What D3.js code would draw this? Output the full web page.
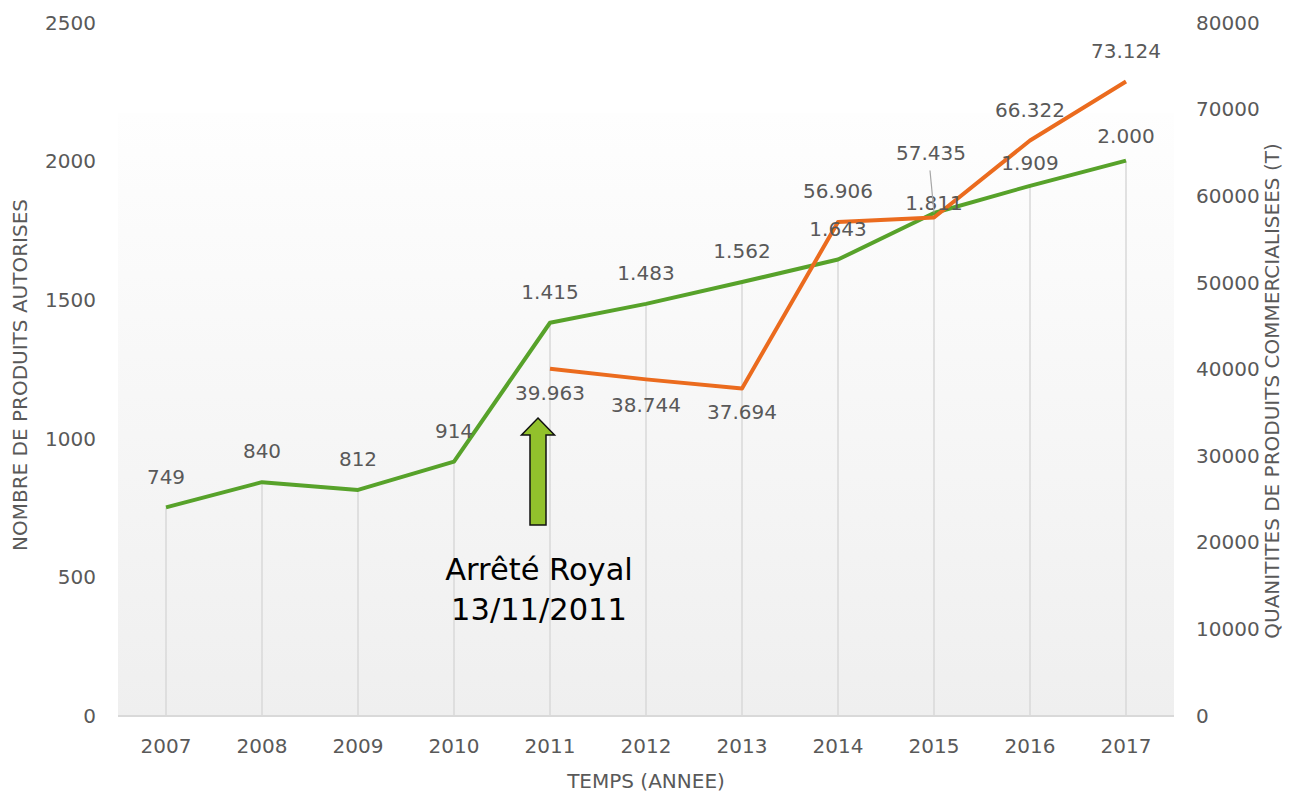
<!DOCTYPE html>
<html lang="fr">
<head>
<meta charset="UTF-8">
<script src="https://d3js.org/d3.v7.min.js"></script>
<title>Produits autorises et quantites commercialisees</title>
<style>
  body { margin: 0; background: #ffffff; }
  svg text { font-family: "DejaVu Sans", Verdana, sans-serif; fill: #595959; }
</style>
</head>
<body>
<div id="chart"></div>
<script>
// data
const years = ["2007", "2008", "2009", "2010", "2011", "2012", "2013", "2014", "2015", "2016", "2017"];
const autorises = [749, 840, 812, 914, 1415, 1483, 1562, 1643, 1811, 1909, 2000];
const quantites = [null, null, null, null, 39963, 38744, 37694, 56906, 57435, 66322, 73124];
const leftTicks = [0, 500, 1000, 1500, 2000, 2500];
const rightTicks = [0, 10000, 20000, 30000, 40000, 50000, 60000, 70000, 80000];

const width = 1299, height = 797;
const plot = { left: 118, right: 1174, top: 22, bottom: 715 };

const svg = d3.select("#chart").append("svg")
    .attr("width", width)
    .attr("height", height);

const x = d3.scaleBand().domain(years).range([plot.left, plot.right]).padding(0);
const cx = d => x(d) + x.bandwidth() / 2;
const yL = d3.scaleLinear().domain([0, 2500]).range([plot.bottom, plot.top]);
const yR = d3.scaleLinear().domain([0, 80000]).range([plot.bottom, plot.top]);

// number format with "." as thousands separator
const fr = d3.formatLocale({ decimal: ",", thousands: ".", grouping: [3], currency: ["", ""] });
const fmt = fr.format(",d");

// plot background, light gradient
const grad = svg.append("defs").append("linearGradient")
    .attr("id", "bg").attr("x1", 0).attr("y1", 0).attr("x2", 0).attr("y2", 1);
grad.append("stop").attr("offset", "0%").attr("stop-color", "#fefefe");
grad.append("stop").attr("offset", "100%").attr("stop-color", "#efefef");

svg.append("rect")
    .attr("x", plot.left)
    .attr("y", 113)
    .attr("width", plot.right - plot.left)
    .attr("height", plot.bottom + 1 - 113)
    .attr("fill", "url(#bg)");

// drop lines down from the green series
svg.selectAll(".drop")
    .data(years)
    .enter().append("line")
    .attr("class", "drop")
    .attr("x1", d => cx(d)).attr("x2", d => cx(d))
    .attr("y1", yL(0))
    .attr("y2", (d, i) => yL(autorises[i]))
    .attr("stroke", "#d9d9d9")
    .attr("stroke-width", 1.5);

// category axis line
svg.append("line")
    .attr("x1", plot.left).attr("x2", plot.right)
    .attr("y1", yL(0) + 1).attr("y2", yL(0) + 1)
    .attr("stroke", "#d9d9d9")
    .attr("stroke-width", 2);

// axes (text only)
const axisLeft = svg.append("g")
    .attr("transform", "translate(96,0)")
    .call(d3.axisLeft(yL).tickValues(leftTicks).tickSize(0).tickPadding(0).tickFormat(d3.format("d")));
const axisRight = svg.append("g")
    .attr("transform", "translate(1196,0)")
    .call(d3.axisRight(yR).tickValues(rightTicks).tickSize(0).tickPadding(0).tickFormat(d3.format("d")));
const axisBottom = svg.append("g")
    .attr("transform", `translate(0,${plot.bottom})`)
    .call(d3.axisBottom(x).tickSize(0).tickPadding(0));

[axisLeft, axisRight, axisBottom].forEach(g => {
  g.select(".domain").remove();
  g.selectAll("text")
    .attr("font-family", "DejaVu Sans")
    .attr("font-size", 20)
    .attr("fill", "#595959");
});
axisLeft.selectAll("text").attr("dy", "0.36em");
axisRight.selectAll("text").attr("dy", "0.36em");
axisBottom.selectAll("text").attr("dy", 0).attr("y", 38);

// axis titles
svg.append("text")
    .attr("transform", "translate(27,375) rotate(-90)")
    .attr("text-anchor", "middle")
    .attr("font-size", 20)
    .text("NOMBRE DE PRODUITS AUTORISES");

svg.append("text")
    .attr("transform", "translate(1279,391) rotate(-90)")
    .attr("text-anchor", "middle")
    .attr("font-size", 20)
    .text("QUANITITES DE PRODUITS COMMERCIALISEES (T)");

svg.append("text")
    .attr("x", (plot.left + plot.right) / 2)
    .attr("y", 788)
    .attr("text-anchor", "middle")
    .attr("font-size", 20)
    .text("TEMPS (ANNEE)");

// series lines
const greenLine = d3.line()
    .x((d, i) => cx(years[i]))
    .y(d => yL(d));

const orangeLine = d3.line()
    .defined(d => d != null)
    .x((d, i) => cx(years[i]))
    .y(d => yR(d));

svg.append("path")
    .datum(autorises)
    .attr("d", greenLine)
    .attr("fill", "none")
    .attr("stroke", "#57a22a")
    .attr("stroke-width", 4)
    .attr("stroke-linejoin", "round");

svg.append("path")
    .datum(quantites)
    .attr("d", orangeLine)
    .attr("fill", "none")
    .attr("stroke", "#eb6b1e")
    .attr("stroke-width", 4)
    .attr("stroke-linejoin", "round");

// data labels
const greenShift = { "2015": -10, "2016": -23, "2017": -25 };
svg.selectAll(".lblG")
    .data(autorises)
    .enter().append("text")
    .attr("class", "lblG")
    .attr("x", (d, i) => cx(years[i]))
    .attr("y", (d, i) => yL(d) + (greenShift[years[i]] ?? -31))
    .attr("dy", "0.36em")
    .attr("text-anchor", "middle")
    .attr("font-size", 20)
    .text(d => fmt(d));

const orangeShift = { "2011": 24, "2012": 25, "2013": 23, "2015": -65 };
const orangePts = quantites.map((v, i) => ({ year: years[i], v })).filter(d => d.v != null);

// leader line for the moved label
const moved = orangePts.find(d => d.year === "2015");
svg.append("line")
    .attr("x1", cx(moved.year) - 4).attr("y1", yR(moved.v) + orangeShift["2015"] + 18)
    .attr("x2", cx(moved.year)).attr("y2", yR(moved.v) - 5)
    .attr("stroke", "#a6a6a6")
    .attr("stroke-width", 1.2);

svg.selectAll(".lblO")
    .data(orangePts)
    .enter().append("text")
    .attr("class", "lblO")
    .attr("x", d => cx(d.year) - (d.year === "2015" ? 3 : 0))
    .attr("y", d => yR(d.v) + (orangeShift[d.year] ?? -31))
    .attr("dy", "0.36em")
    .attr("text-anchor", "middle")
    .attr("font-size", 20)
    .text(d => fmt(d.v));

// annotation: arrow + text under 2011
const ax = cx("2011") - 12;
const tip = 418, headBase = 435, bottom = 525;
const arrow = [
  [ax, tip], [ax + 16.5, headBase], [ax + 8, headBase], [ax + 8, bottom],
  [ax - 8, bottom], [ax - 8, headBase], [ax - 16.5, headBase]
];
svg.append("polygon")
    .attr("points", arrow.map(p => p.join(",")).join(" "))
    .attr("fill", "#92c12c")
    .attr("stroke", "#111111")
    .attr("stroke-width", 1.5);

svg.append("text")
    .attr("x", ax + 1)
    .attr("y", 580)
    .attr("text-anchor", "middle")
    .attr("font-size", 30.5)
    .style("fill", "#000000")
    .text("Arrêté Royal");

svg.append("text")
    .attr("x", ax + 1)
    .attr("y", 620)
    .attr("text-anchor", "middle")
    .attr("font-size", 30.5)
    .style("fill", "#000000")
    .text("13/11/2011");
</script>
</body>
</html>
